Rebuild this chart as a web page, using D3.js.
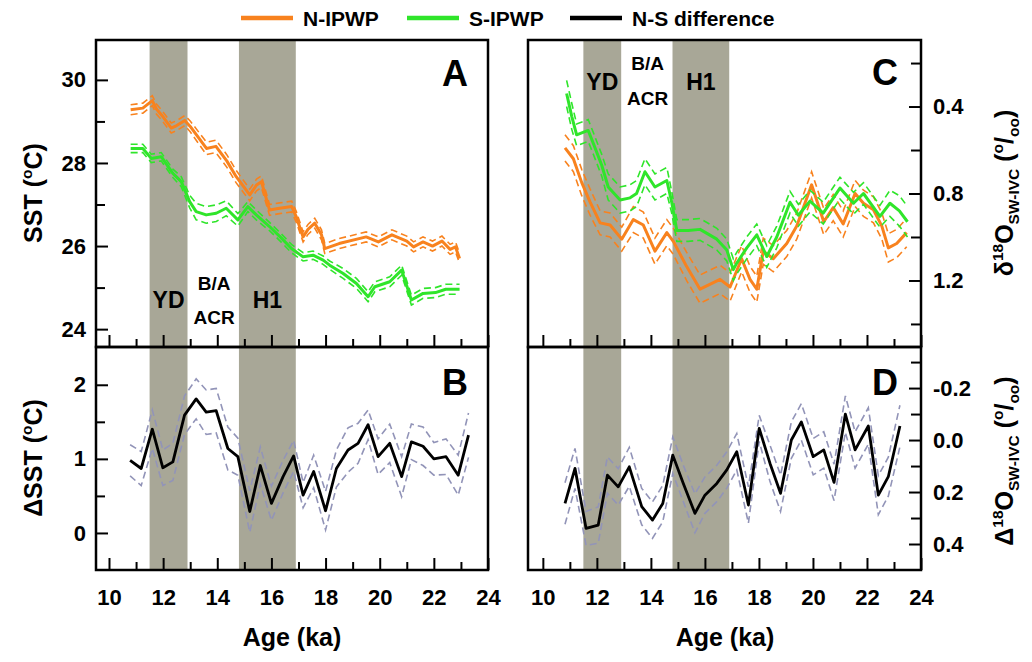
<!DOCTYPE html>
<html><head><meta charset="utf-8">
<script src="https://cdn.jsdelivr.net/npm/d3@7"></script>
<style>
body{margin:0;background:#fff;}
text{font-family:"Liberation Sans",Arial,sans-serif;font-weight:bold;fill:#000;}
</style></head><body>
<svg id="c" width="1032" height="662"></svg>
<script>
// ---------------- DATA ----------------
// Panel A: SST (°C)
const ageSstN = [10.8, 11.25, 11.6, 11.75, 11.95, 12.3, 12.5, 12.8, 13.0, 13.6, 13.95, 14.35, 14.7, 15.2, 15.45, 15.63, 15.93, 16.3, 16.75, 16.92, 17.17, 17.35, 17.6, 17.85, 17.97, 18.5, 19.5, 19.95, 20.45, 21.0, 21.25, 21.6, 21.95, 22.3, 22.6, 22.8, 22.95];
const sstN    = [29.28, 29.32, 29.5, 29.3, 29.15, 28.84, 28.9, 29.02, 28.88, 28.35, 28.4, 28.05, 27.67, 27.23, 27.47, 27.55, 26.87, 26.91, 26.95, 26.7, 26.22, 26.4, 26.55, 26.27, 25.94, 26.06, 26.22, 26.1, 26.27, 26.12, 25.98, 26.1, 26.0, 26.12, 25.92, 25.98, 25.7];
const errSstN = [0.12, 0.12, 0.12, 0.12, 0.12, 0.12, 0.12, 0.12, 0.13, 0.15, 0.15, 0.15, 0.15, 0.14, 0.14, 0.14, 0.13, 0.13, 0.13, 0.13, 0.12, 0.12, 0.12, 0.12, 0.12, 0.12, 0.12, 0.12, 0.12, 0.12, 0.12, 0.12, 0.12, 0.12, 0.12, 0.12, 0.12];
const ageSstS = [10.8, 11.25, 11.56, 11.93, 12.36, 12.67, 12.98, 13.22, 13.59, 13.96, 14.33, 14.76, 15.13, 15.44, 15.93, 16.37, 16.74, 17.17, 17.54, 17.91, 18.15, 18.65, 19.14, 19.57, 19.82, 20.37, 20.81, 21.17, 21.6, 22.06, 22.44, 22.95];
const sstS    = [28.35, 28.35, 28.11, 28.15, 27.75, 27.55, 27.07, 26.83, 26.75, 26.79, 26.91, 26.63, 26.95, 26.75, 26.47, 26.19, 25.94, 25.74, 25.78, 25.66, 25.54, 25.34, 25.1, 24.78, 25.02, 25.14, 25.42, 24.7, 24.86, 24.88, 24.96, 24.96];
const errSstS = [0.1, 0.1, 0.1, 0.1, 0.1, 0.12, 0.15, 0.2, 0.2, 0.2, 0.18, 0.15, 0.12, 0.12, 0.1, 0.1, 0.1, 0.1, 0.1, 0.1, 0.1, 0.12, 0.12, 0.12, 0.12, 0.12, 0.12, 0.12, 0.12, 0.12, 0.12, 0.12];
// Panel B: ΔSST (°C)
const ageDSst = [10.78, 11.19, 11.6, 11.99, 12.36, 12.79, 13.22, 13.59, 13.96, 14.39, 14.76, 15.2, 15.59, 16.0, 16.43, 16.82, 17.17, 17.56, 18.0, 18.4, 18.83, 19.2, 19.57, 19.94, 20.37, 20.81, 21.17, 21.6, 22.0, 22.45, 22.9, 23.28];
const dSst    = [0.98, 0.87, 1.40, 0.88, 0.96, 1.59, 1.81, 1.63, 1.65, 1.14, 1.03, 0.29, 0.91, 0.40, 0.76, 1.04, 0.51, 0.83, 0.30, 0.87, 1.12, 1.21, 1.46, 1.03, 1.21, 0.76, 1.23, 1.17, 1.0, 1.03, 0.78, 1.32];
const errDSst = [0.21, 0.23, 0.26, 0.24, 0.25, 0.26, 0.27, 0.3, 0.3, 0.29, 0.25, 0.28, 0.25, 0.23, 0.22, 0.21, 0.17, 0.22, 0.26, 0.25, 0.3, 0.27, 0.2, 0.24, 0.26, 0.27, 0.24, 0.26, 0.22, 0.24, 0.27, 0.3];
// Panel C: δ18O sw-ivc (‰)
const ageD18N = [10.82, 11.13, 11.44, 11.75, 12.12, 12.49, 12.92, 13.35, 13.72, 14.15, 14.59, 14.83, 15.32, 15.82, 16.56, 16.93, 17.36, 17.67, 17.92, 18.16, 18.53, 19.03, 19.4, 19.95, 20.4, 20.75, 21.12, 21.56, 21.87, 22.24, 22.55, 22.79, 23.1, 23.47];
const d18N    = [0.59, 0.64, 0.75, 0.84, 0.935, 0.945, 1.01, 0.92, 0.945, 1.065, 0.98, 1.02, 1.135, 1.24, 1.195, 1.23, 1.10, 1.195, 1.24, 1.065, 1.10, 1.03, 0.95, 0.76, 0.93, 0.865, 0.94, 0.80, 0.845, 0.875, 0.95, 1.05, 1.03, 0.98];
const errD18N = [0.06, 0.06, 0.06, 0.06, 0.055, 0.055, 0.055, 0.06, 0.06, 0.06, 0.06, 0.06, 0.065, 0.065, 0.065, 0.065, 0.06, 0.06, 0.06, 0.06, 0.06, 0.06, 0.06, 0.06, 0.06, 0.06, 0.06, 0.06, 0.06, 0.06, 0.06, 0.065, 0.065, 0.065];
const ageD18S = [10.88, 11.07, 11.25, 11.68, 11.87, 12.18, 12.42, 12.86, 13.23, 13.47, 13.78, 14.15, 14.59, 14.77, 14.96, 15.38, 15.82, 16.44, 16.81, 17.05, 17.18, 17.55, 17.92, 18.29, 18.66, 19.15, 19.46, 19.89, 20.38, 21.0, 21.5, 21.87, 22.48, 22.85, 23.2, 23.5];
const d18S    = [0.34, 0.445, 0.53, 0.51, 0.57, 0.67, 0.77, 0.83, 0.82, 0.80, 0.70, 0.77, 0.74, 0.84, 0.97, 0.97, 0.965, 1.01, 1.06, 1.15, 1.12, 1.05, 0.99, 1.09, 1.0, 0.84, 0.90, 0.835, 0.89, 0.775, 0.845, 0.80, 0.905, 0.845, 0.88, 0.93];
const errD18S = [0.06, 0.06, 0.05, 0.05, 0.05, 0.05, 0.06, 0.06, 0.06, 0.06, 0.06, 0.06, 0.06, 0.05, 0.05, 0.05, 0.05, 0.05, 0.05, 0.05, 0.05, 0.05, 0.05, 0.05, 0.05, 0.05, 0.05, 0.05, 0.05, 0.05, 0.05, 0.05, 0.05, 0.06, 0.07, 0.07];
// Panel D: Δ18O sw-ivc (‰)
const ageDD18 = [10.82, 11.19, 11.6, 12.05, 12.39, 12.79, 13.2, 13.66, 14.06, 14.44, 14.81, 15.2, 15.63, 16.0, 16.44, 16.81, 17.18, 17.61, 18.01, 18.41, 18.8, 19.2, 19.57, 20.01, 20.4, 20.78, 21.2, 21.56, 22.05, 22.42, 22.79, 23.22];
const dD18    = [0.244, 0.109, 0.34, 0.327, 0.135, 0.18, 0.103, 0.256, 0.308, 0.244, 0.058, 0.167, 0.282, 0.212, 0.167, 0.115, 0.045, 0.25, -0.045, 0.09, 0.205, 0.0, -0.07, 0.064, 0.038, 0.163, -0.1, 0.038, -0.054, 0.212, 0.141, -0.054];
const errDD18 = [0.08, 0.077, 0.065, 0.07, 0.07, 0.07, 0.075, 0.07, 0.07, 0.07, 0.07, 0.07, 0.075, 0.07, 0.07, 0.07, 0.07, 0.07, 0.05, 0.07, 0.07, 0.07, 0.07, 0.07, 0.07, 0.07, 0.07, 0.07, 0.07, 0.075, 0.075, 0.08];
// Events (ka)
const events = [{name:"YD", from:11.5, to:12.9}, {name:"H1", from:14.8, to:16.9}];
const baLabel = ["B/A", "ACR"];
const baAge = 13.88;
// Tick values
const ageTicks = d3.range(10, 24.5, 1);
const sstTicks = [24, 25, 26, 27, 28, 29, 30];
const dSstTicks = [0, 0.5, 1, 1.5, 2];
const d18Ticks = [0.2, 0.4, 0.6, 0.8, 1.0, 1.2, 1.4];
const dD18Ticks = [-0.3, -0.2, -0.1, 0, 0.1, 0.2, 0.3, 0.4];
const legendItems = [{label:"N-IPWP", color:"#f8821e"}, {label:"S-IPWP", color:"#2fe52a"}, {label:"N-S difference", color:"#000"}];

// ---------------- CHART ----------------
const ORANGE = "#f8821e", GREEN = "#2fe52a", SLATE = "#9294b8", BAND = "#a8a797";
const svg = d3.select("#c");
const xL = d3.scaleLinear().domain([9.52, 24]).range([96, 488]);
const xR = d3.scaleLinear().domain([9.45, 24]).range([528, 921]);
const yA = d3.scaleLinear().domain([23.57, 30.96]).range([347, 40]);
const yB = d3.scaleLinear().domain([-0.5, 2.51]).range([570, 347]);
const yC = d3.scaleLinear().domain([0.094, 1.506]).range([40, 347]);
const yD = d3.scaleLinear().domain([-0.358, 0.5]).range([347, 570]);

// event bands
[xL, xR].forEach(x => {
  svg.append("g").selectAll("rect").data(events).join("rect")
    .attr("x", d => x(d.from)).attr("width", d => x(d.to) - x(d.from))
    .attr("y", 40).attr("height", 530).attr("fill", BAND);
});

function series(x, y, ages, vals, errs, color, dashColor, w) {
  const line = d3.line().x(d => x(d[0])).y(d => y(d[1]));
  const g = svg.append("g").attr("fill", "none");
  const up = d3.zip(ages, vals, errs).map(d => [d[0], d[1] + d[2]]);
  const lo = d3.zip(ages, vals, errs).map(d => [d[0], d[1] - d[2]]);
  [up, lo].forEach(p => g.append("path").attr("d", line(p)).attr("stroke", dashColor)
    .attr("stroke-width", 1.6).attr("stroke-dasharray", "7,4"));
  g.append("path").attr("d", line(d3.zip(ages, vals))).attr("stroke", color)
    .attr("stroke-width", w).attr("stroke-linejoin", "round");
}
series(xL, yA, ageSstN, sstN, errSstN, ORANGE, ORANGE, 3);
series(xL, yA, ageSstS, sstS, errSstS, GREEN, GREEN, 3);
series(xL, yB, ageDSst, dSst, errDSst, "#000", SLATE, 2.8);
series(xR, yC, ageD18N, d18N, errD18N, ORANGE, ORANGE, 3);
series(xR, yC, ageD18S, d18S, errD18S, GREEN, GREEN, 3);
series(xR, yD, ageDD18, dD18, errDD18, "#000", SLATE, 2.8);

// frames
[[96, 40, 392, 307], [96, 347, 392, 223], [528, 40, 393, 307], [528, 347, 393, 223]].forEach(r =>
  svg.append("rect").attr("x", r[0]).attr("y", r[1]).attr("width", r[2]).attr("height", r[3])
    .attr("fill", "none").attr("stroke", "#000").attr("stroke-width", 2.5));

function styleAxis(g, isMajor, majLen, minLen, horiz) {
  g.select(".domain").remove();
  g.attr("font-size", 22).attr("font-family", null);
  g.selectAll(".tick line").attr("stroke", "#000").attr("stroke-width", 2)
    .each(function(d) {
      const len = isMajor(d) ? majLen : minLen;
      const el = d3.select(this);
      if (horiz) el.attr("y2", -len); else el.attr("x2", el.attr("x2") > 0 ? len : -len);
    });
}
const isInt = d => Math.abs(d - Math.round(d)) < 1e-6;
const isEven = d => isInt(d) && Math.round(d) % 2 === 0;

// x axes
[[xL, 347, false], [xL, 570, true], [xR, 347, false], [xR, 570, true]].forEach(([x, y, lab]) => {
  const ax = d3.axisBottom(x).tickValues(ageTicks).tickSize(-12).tickPadding(19)
    .tickFormat(d => (lab && isEven(d)) ? d3.format("d")(d) : "");
  const g = svg.append("g").attr("transform", `translate(0,${y})`).call(ax);
  styleAxis(g, isEven, 12, 8, true);
});
// left axes
function leftAxis(scale, vals, isMajor, fmt) {
  const ax = d3.axisLeft(scale).tickValues(vals).tickSize(-12).tickPadding(10)
    .tickFormat(d => isMajor(d) ? fmt(d) : "");
  const g = svg.append("g").attr("transform", "translate(96,0)").call(ax);
  styleAxis(g, isMajor, 12, 9, false);
}
leftAxis(yA, sstTicks, isEven, d3.format("d"));
leftAxis(yB, dSstTicks, isInt, d3.format("d"));
function rightAxis(scale, vals, isMajor) {
  const ax = d3.axisRight(scale).tickValues(vals).tickSize(-12).tickPadding(12)
    .tickFormat(d => isMajor(d) ? d.toFixed(1) : "");
  const g = svg.append("g").attr("transform", "translate(921,0)").call(ax);
  styleAxis(g, isMajor, 12, 10, false);
}
rightAxis(yC, d18Ticks, d => Math.round(d * 10) % 4 === 0);
rightAxis(yD, dD18Ticks, d => Math.abs(Math.round(d * 10)) % 2 === 0);

// event labels
function evLabels(x, yEv, yBA1, yBA2) {
  events.forEach(e => svg.append("text").attr("x", x((e.from + e.to) / 2)).attr("y", yEv)
    .attr("text-anchor", "middle").attr("font-size", 23).text(e.name));
  svg.append("text").attr("x", x(baAge)).attr("y", yBA1).attr("text-anchor", "middle").attr("font-size", 19).text(baLabel[0]);
  svg.append("text").attr("x", x(baAge)).attr("y", yBA2).attr("text-anchor", "middle").attr("font-size", 19).text(baLabel[1]);
}
evLabels(xL, 308, 290, 324);
evLabels(xR, 90, 70, 105);

// panel letters
[["A", 455, 86], ["B", 455, 395], ["C", 885, 85], ["D", 885, 395]].forEach(([t, x, y]) =>
  svg.append("text").attr("x", x).attr("y", y).attr("text-anchor", "middle").attr("font-size", 36).text(t));

// axis titles
function rich(x, y, rot, size, parts) {
  const t = svg.append("text").attr("transform", `translate(${x},${y}) rotate(${rot})`)
    .attr("text-anchor", "middle").attr("font-size", size);
  let shift = 0;
  parts.forEach(([s, k]) => {
    const target = k === "sup" ? -0.42 * size : k === "sub" ? 0.22 * size : 0;
    t.append("tspan").attr("dy", target - shift).attr("font-size", k ? size * 0.62 : size).text(s);
    shift = target;
  });
}
rich(42, 193, -90, 25, [["SST (", null], ["o", "sup"], ["C)", null]]);
rich(42, 458, -90, 25, [["\u0394SST (", null], ["o", "sup"], ["C)", null]]);
rich(1013, 193, -90, 25, [["\u03b4", null], ["18", "sup"], ["O", null], ["SW-IVC", "sub"], [" (", null], ["o", "sup"], ["/", null], ["oo", "sub"], [")", null]]);
rich(1013, 461, -90, 25, [["\u0394", null], ["18", "sup"], ["O", null], ["SW-IVC", "sub"], [" (", null], ["o", "sup"], ["/", null], ["oo", "sub"], [")", null]]);
[[292], [725]].forEach(([cx]) => svg.append("text").attr("x", cx).attr("y", 646).attr("text-anchor", "middle").attr("font-size", 25).text("Age (ka)"));

// legend
const legX = [241, 407, 570];
legendItems.forEach((d, i) => {
  svg.append("line").attr("x1", legX[i]).attr("x2", legX[i] + 52).attr("y1", 18).attr("y2", 18)
    .attr("stroke", d.color).attr("stroke-width", 4.5);
  svg.append("text").attr("x", legX[i] + 62).attr("y", 26).attr("font-size", 21).text(d.label);
});
</script>
</body></html>
